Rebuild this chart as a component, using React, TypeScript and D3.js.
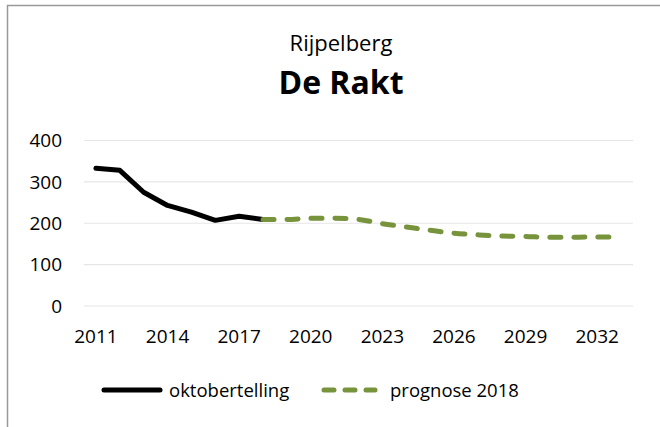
import React from 'react';
import { scaleBand, scaleLinear, line, curveMonotoneX, range } from 'd3';

const years = range(2011, 2034);
const tickYears = [2011, 2014, 2017, 2020, 2023, 2026, 2029, 2032];
const yTicks = [0, 100, 200, 300, 400];

// oktobertelling 2011-2018
const countYears = [2011, 2012, 2013, 2014, 2015, 2016, 2017, 2018];
const countValues = [333, 328, 275, 243, 227, 207, 217, 209];

// prognose 2018: 2018-2033
const progYears = [2018, 2019, 2020, 2021, 2022, 2023, 2024, 2025, 2026, 2027, 2028, 2029, 2030, 2031, 2032, 2033];
const progValues = [209, 209, 212, 212, 209, 199, 191, 183, 176, 172, 169, 168, 166, 166, 167, 167];

const W = 660;
const H = 427;
const FONT = '"Open Sans", "Noto Sans", sans-serif';
const GREEN = '#77933C';

export default function App() {
  const margin = { left: 84, right: 27, top: 140, bottom: 121 };

  const x = scaleBand<number>()
    .domain(years)
    .range([margin.left, W - margin.right]);
  const cx = (yr: number) => (x(yr) as number) + x.bandwidth() / 2;

  const y = scaleLinear()
    .domain([0, 400])
    .range([H - margin.bottom, margin.top + 0.5]);

  const countLine = line<number>()
    .x((d, i) => cx(countYears[i]))
    .y(d => y(d));

  const progLine = line<number>()
    .x((d, i) => cx(progYears[i]))
    .y(d => y(d))
    .curve(curveMonotoneX);

  const legendY = 390;

  return (
    <svg width={W} height={H} style={{ position: 'absolute', left: 0, top: 0 }} fontFamily={FONT}>
      <rect x={0} y={0} width={W} height={H} fill="#fff" />
      <rect x={7.5} y={5.5} width={W + 20} height={H + 20} fill="none" stroke="#999" strokeWidth={1.5} />

      <text x={341} y={51} textAnchor="middle" fontSize={22} fill="#000">Rijpelberg</text>
      <text x={341} y={94} textAnchor="middle" fontSize={32} fontWeight="bold" fill="#000">De Rakt</text>

      <g>
        {yTicks.map(t => (
          <g key={t}>
            <line x1={margin.left} x2={W - margin.right} y1={y(t)} y2={y(t)} stroke="#e6e6e6" strokeWidth={1.2} />
            <text x={62} y={y(t)} dy="0.36em" textAnchor="end" fontSize={19} fill="#000">{t}</text>
          </g>
        ))}
      </g>

      <g>
        {tickYears.map(t => (
          <text key={t} x={cx(t)} y={343} textAnchor="middle" fontSize={19} fill="#000">{t}</text>
        ))}
      </g>

      <path d={countLine(countValues) || ''} fill="none" stroke="#000" strokeWidth={5}
        strokeLinejoin="round" strokeLinecap="round" />
      <path d={progLine(progValues) || ''} fill="none" stroke={GREEN} strokeWidth={5}
        strokeLinecap="round" strokeDasharray="11 13" />

      <g>
        <line x1={104} x2={160} y1={legendY} y2={legendY} stroke="#000" strokeWidth={5} strokeLinecap="round" />
        <text x={169} y={legendY} dy="0.36em" fontSize={18.5} fill="#000">oktobertelling</text>
        <line x1={324} x2={375} y1={legendY} y2={legendY} stroke={GREEN} strokeWidth={5}
          strokeLinecap="round" strokeDasharray="10 11" />
        <text x={390} y={legendY} dy="0.36em" fontSize={18.5} fill="#000">prognose 2018</text>
      </g>
    </svg>
  );
}
